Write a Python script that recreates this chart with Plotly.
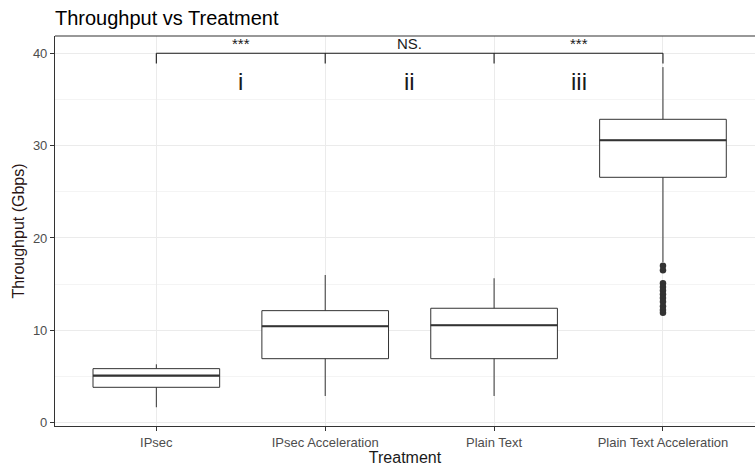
import plotly.graph_objects as go

# ---- data ----
categories = ["IPsec", "IPsec Acceleration", "Plain Text", "Plain Text Acceleration"]
q1 = [3.83, 6.93, 6.93, 26.57]
median = [5.09, 10.44, 10.55, 30.58]
q3 = [5.85, 12.13, 12.39, 32.85]
lower_whisker = [1.67, 2.89, 2.89, 17.4]
upper_whisker = [6.32, 15.99, 15.64, 38.5]
outlier_cat = [3] * 11
outlier_vals = [17.0, 16.5, 15.1, 14.7, 14.3, 13.9, 13.5, 13.1, 12.6, 12.2, 11.9]

bracket_y = 40.0
bracket_tick_y = 38.9
sig_labels = ["***", "NS.", "***"]
region_labels = ["i", "ii", "iii"]
region_label_y = 36.9
y_ticks = [0, 10, 20, 30, 40]
y_minor = [5, 15, 25, 35]

FONT = "Liberation Sans, Arial, sans-serif"
LINE = "#333333"
BOXW = 0.75
xs = list(range(len(categories)))

fig = go.Figure()

# boxes
fig.add_trace(go.Box(
    x=xs, q1=q1, median=median, q3=q3,
    lowerfence=lower_whisker, upperfence=upper_whisker,
    width=BOXW, whiskerwidth=0,
    fillcolor="white", line=dict(color=LINE, width=1),
    showlegend=False, hoverinfo="skip",
))

# thicker median lines
for i, m in enumerate(median):
    fig.add_trace(go.Scatter(
        x=[i - BOXW / 2, i + BOXW / 2], y=[m, m], mode="lines",
        line=dict(color=LINE, width=2.2), showlegend=False, hoverinfo="skip",
    ))

# outliers
fig.add_trace(go.Scatter(
    x=outlier_cat, y=outlier_vals, mode="markers",
    marker=dict(color=LINE, size=6.5), showlegend=False, hoverinfo="skip",
))

# significance bracket
fig.add_trace(go.Scatter(
    x=[xs[0], xs[-1]], y=[bracket_y, bracket_y], mode="lines",
    line=dict(color="#1a1a1a", width=1.1), showlegend=False, hoverinfo="skip",
))
for i in xs:
    fig.add_trace(go.Scatter(
        x=[i, i], y=[bracket_y, bracket_tick_y], mode="lines",
        line=dict(color="#1a1a1a", width=1.1), showlegend=False, hoverinfo="skip",
    ))

for k, lab in enumerate(sig_labels):
    fig.add_annotation(
        x=(xs[k] + xs[k + 1]) / 2, y=bracket_y, text=lab, showarrow=False,
        yanchor="bottom", yshift=-1,
        font=dict(family=FONT, size=15, color="#1a1a1a"),
    )
for k, lab in enumerate(region_labels):
    fig.add_annotation(
        x=(xs[k] + xs[k + 1]) / 2, y=region_label_y, text=lab, showarrow=False,
        yanchor="middle",
        font=dict(family=FONT, size=24, color="#1a1a1a"),
    )

# top border
fig.add_shape(type="line", xref="paper", yref="paper", x0=0, x1=1, y0=1, y1=1,
              line=dict(color=LINE, width=1.1))

fig.update_layout(
    width=755, height=466,
    margin=dict(l=55, r=0, t=36, b=40),
    paper_bgcolor="white", plot_bgcolor="white",
    title=dict(text="Throughput vs Treatment", x=55 / 755, xanchor="left",
               xref="container", y=1 - 17.5 / 466, yanchor="middle", yref="container",
               font=dict(family=FONT, size=20, color="#000000")),
    font=dict(family=FONT),
)

fig.update_xaxes(
    range=[-0.6, 3.545], tickvals=xs, ticktext=categories,
    showgrid=True, gridcolor="#ebebeb", gridwidth=1.07,
    zeroline=False, showline=True, linecolor=LINE, linewidth=1.1,
    ticks="outside", ticklen=4, tickcolor=LINE, tickwidth=1,
    tickfont=dict(family=FONT, size=13, color="#4d4d4d"),
    title=dict(text="Treatment", standoff=4,
               font=dict(family=FONT, size=16, color="#1a1a1a")),
)
fig.update_yaxes(
    range=[-0.36, 41.87], tickvals=y_ticks,
    showgrid=True, gridcolor="#ebebeb", gridwidth=1.07,
    minor=dict(tickvals=y_minor, showgrid=True, gridcolor="#f4f4f4", gridwidth=0.6, ticks=""),
    zeroline=False, showline=True, linecolor=LINE, linewidth=1.1,
    ticks="outside", ticklen=4, tickcolor=LINE, tickwidth=1,
    tickfont=dict(family=FONT, size=13, color="#4d4d4d"),
    title=dict(text="Throughput (Gbps)", standoff=4,
               font=dict(family=FONT, size=16, color="#2a1515")),
)

fig.write_html("out.html", config={"displayModeBar": False},
               post_script="document.body.style.margin='0';")
